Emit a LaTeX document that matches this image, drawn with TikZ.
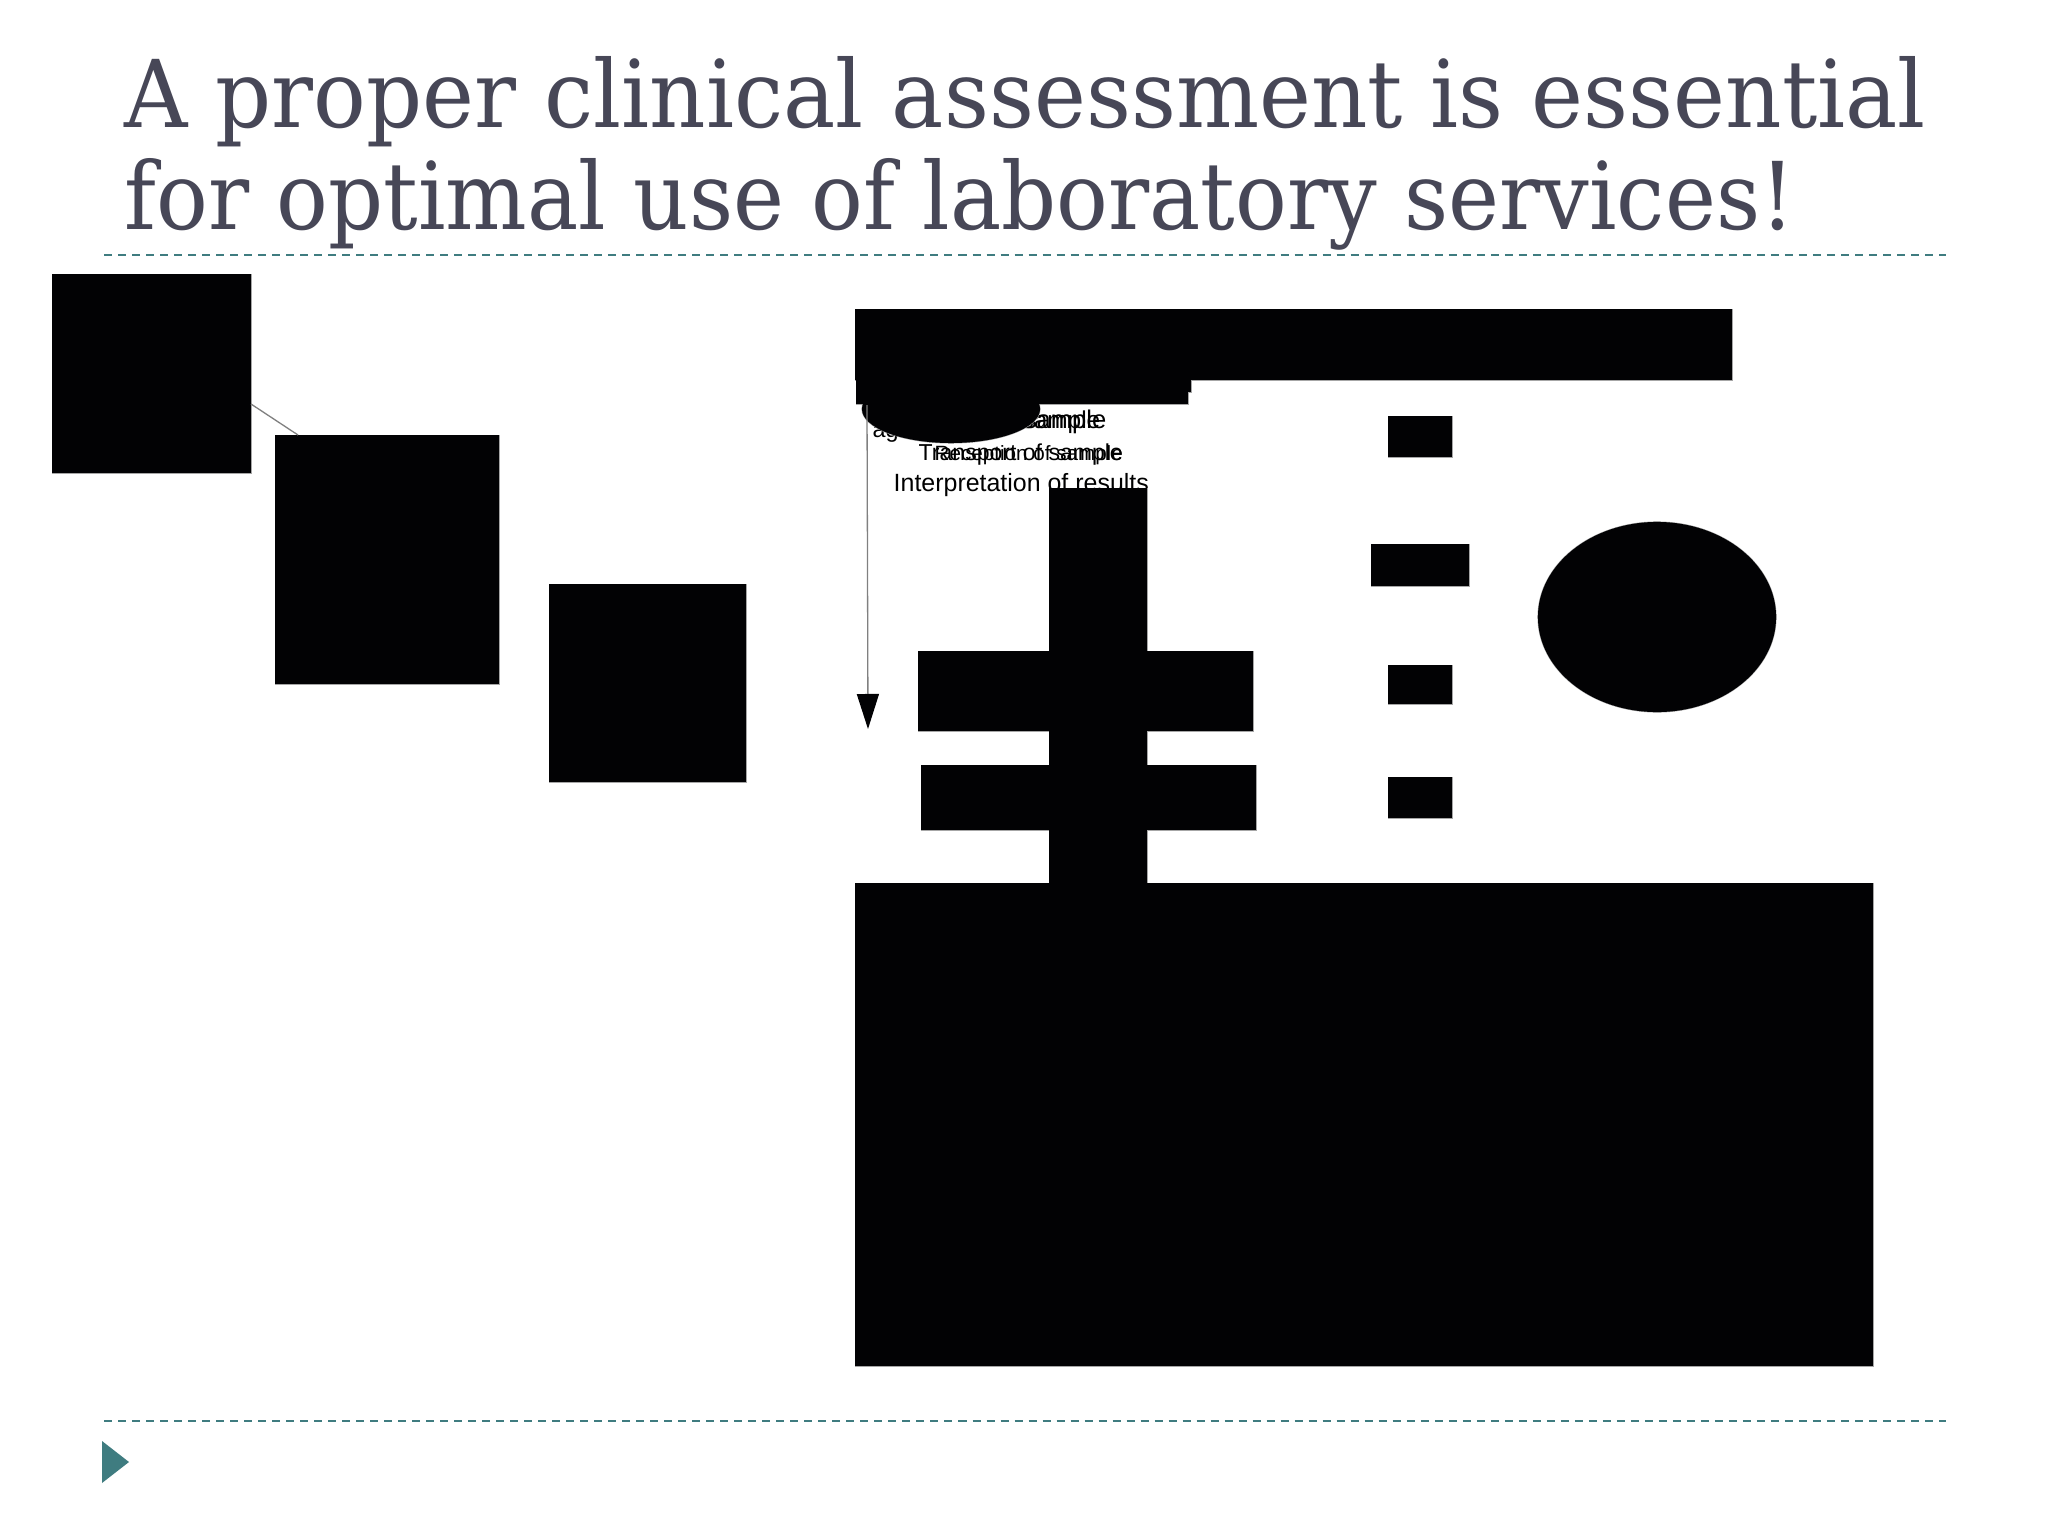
\documentclass[tikz,border=0pt]{standalone}
\usepackage{fontspec}
\usepackage{graphicx}
\usetikzlibrary{arrows.meta}
\newfontfamily\titlefont{DejaVu Serif}
\newfontfamily\notefont{Liberation Sans}
\definecolor{titlegray}{HTML}{474757}
\definecolor{slideteal}{HTML}{3F7C80}
\definecolor{ink}{HTML}{020204}
\newcommand\blackshapes[1]{%
  \path[#1] (52,274) rectangle (251,473);
  \path[#1] (275,435) rectangle (499,684);
  \path[#1] (549,584) rectangle (746,782);
  \path[#1] (855,309) rectangle (1732,380);
  \path[#1] (856,309) rectangle (1188,404);
  \path[#1] (1186,380) rectangle (1191,392);
  \path[#1] (951,409) ellipse [x radius=0.89cm,y radius=0.34cm];
  \path[#1] (1049,488) rectangle (1147,883);
  \path[#1] (918,651) rectangle (1253,731);
  \path[#1] (921,765) rectangle (1256,830);
  \path[#1] (855,883) rectangle (1873,1366);
  \path[#1] (1388,416) rectangle (1452,457);
  \path[#1] (1371,544) rectangle (1469,586);
  \path[#1] (1388,665) rectangle (1452,704);
  \path[#1] (1388,777) rectangle (1452,818);
  \path[#1] (1657,617) ellipse [x radius=1.19cm,y radius=0.95cm];}
\begin{document}
\begin{tikzpicture}[x=0.01cm,y=-0.01cm,
  rule/.style={slideteal,line width=0.02cm,dash pattern=on 0.08cm off 0.06cm},
  note/.style={inner sep=0pt,font=\notefont\fontsize{7.1pt}{8pt}\selectfont,text=black},
  conn/.style={gray,line width=0.013cm}]
\useasboundingbox[fill=white] (0,0) rectangle (2048,1536);

% title
\node[inner sep=0pt,anchor=base west,text=titlegray] (t1) at (124,127)
  {\resizebox{18cm}{0.71cm}{\titlefont A proper clinical assessment is essential}};
\node[inner sep=0pt,anchor=base west,text=titlegray] (t2) at (124,229)
  {\resizebox{16.69cm}{0.71cm}{\titlefont for optimal use of laboratory services!}};

% rules and bullet
\draw[rule] (104,255) -- (1946,255);
\draw[rule] (104,1421) -- (1946,1421);
\fill[slideteal] (102,1441) -- (129,1462) -- (102,1483) -- cycle;

% texts (partly hidden below the black shapes)
\node[note,anchor=base west] (ag) at (872,437) {\resizebox{0.26cm}{!}{ag}};
\node[note,anchor=base east] (l1a) at (1107,428) {\resizebox{2.3cm}{!}{Collection of sample}};
\node[note,anchor=base east] (l1b) at (1101,428) {\resizebox{2.1cm}{!}{Labelling of sample}};
\node[note,anchor=base west] (l2a) at (918,460) {\resizebox{2.04cm}{!}{Transport of sample}};
\node[note,anchor=base west] (l2b) at (934,460) {\resizebox{1.88cm}{!}{Reception of sample}};
\node[note,anchor=base west] (l3) at (893,491) {\resizebox{2.55cm}{!}{Interpretation of results}};

% black shapes: outline pass, then a fill pass that merges touching shapes
\blackshapes{fill=ink,draw=gray!70,line width=0.01cm}
\blackshapes{fill=ink}

% connectors
\coordinate (c1) at (251,404);
\coordinate (c2) at (298,435);
\draw[conn] (c1) -- (c2);
\coordinate (a1) at (867,405);
\coordinate (a2) at (868,729);
\draw[conn,-{Triangle[width=0.22cm,length=0.35cm,color=ink]}] (a1) -- (a2);
\end{tikzpicture}
\end{document}
